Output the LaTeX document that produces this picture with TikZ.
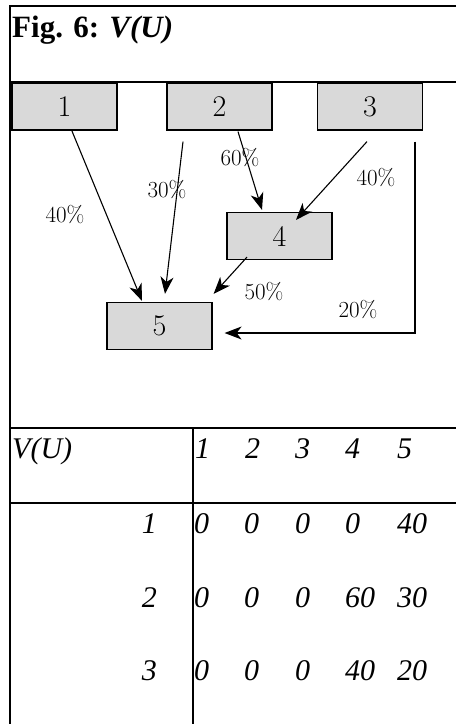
\documentclass[tikz,border=0pt]{standalone}
\usepackage{fontspec}
\newfontfamily\timesfont{Liberation Serif}
\usetikzlibrary{arrows.meta,calc}
\definecolor{boxgray}{RGB}{217,217,217}

\begin{document}
\begin{tikzpicture}[
  x=1pt, y=-1pt,
  box/.style={draw, line width=1.2pt, fill=boxgray, minimum width=105pt, minimum height=47pt, inner sep=0pt, font=\fontsize{30}{30}\selectfont},
  pct/.style={inner sep=0pt, font=\fontsize{23}{23}\selectfont},
  flow/.style={-{Stealth[length=17pt,width=13pt,inset=5pt]}, line width=1.1pt},
  cell/.style={anchor=base west, inner sep=0pt, font=\timesfont\itshape\fontsize{30}{30}\selectfont},
  frame/.style={line width=2pt}
]
  \useasboundingbox (0,0) rectangle (456,724);

  % frame and table rules
  \draw[frame] (456,6) -- (10,6) -- (10,724);
  \draw[frame] (10,81.5) -- (456,81.5);
  \draw[frame] (10,428) -- (456,428);
  \draw[frame] (10,503) -- (456,503);
  \draw[frame] (192.5,428) -- (192.5,724);

  % title
  \node[anchor=base west, inner sep=0pt, font=\timesfont\bfseries\fontsize{31}{31}\selectfont] (title) at (12,37) {Fig. 6: \textit{V(U)}};

  % boxes
  \node[box] (b1) at (64.5,106.5) {1};
  \node[box] (b2) at (219.5,106.5) {2};
  \node[box] (b3) at (370,106.5) {3};
  \node[box] (b4) at (279.5,236) {4};
  \node[box] (b5) at (159.5,326) {5};

  % flows
  \draw[flow] ($(b1.south)+(7.5,0.5)$) -- ($(b5.north)+(-17.5,-1)$);
  \draw[flow] ($(b2.south)+(-36.5,11)$) -- ($(b5.north)+(5.5,-8)$);
  \draw[flow] ($(b2.south)+(18.5,1)$) -- ($(b4.north)+(-17.5,-2)$);
  \draw[flow] ($(b3.south)+(-3,11)$) -- ($(b4.north)+(16.5,8)$);
  \draw[flow] ($(b4.south)+(-32.5,-3)$) -- ($(b5.north east)+(1,-8)$);
  \draw[flow] ($(b3.south)+(45,11)$) |- ($(b5.east)+(12,7)$);

  % shares
  \node[pct] (p15) at (65,215) {40\%};
  \node[pct] (p25) at (167,190) {30\%};
  \node[pct] (p24) at (240,158) {60\%};
  \node[pct] (p34) at (376,178) {40\%};
  \node[pct] (p45) at (264,292) {50\%};
  \node[pct] (p35) at (358,310) {20\%};

  % table header
  \node[cell] (vu) at (12,458) {V(U)};
  \foreach \x/\c in {195/1,245/2,295/3,345/4,397/5}
    \node[cell] (h\c) at (\x,458) {\c};

  % table rows
  \node[cell, anchor=base east] (r1) at (157,533) {1};
  \foreach \x/\v [count=\i] in {194/0,244/0,295/0,345/0,397/40}
    \node[cell] (v1\i) at (\x,533) {\v};
  \node[cell, anchor=base east] (r2) at (157,607) {2};
  \foreach \x/\v [count=\i] in {194/0,244/0,295/0,345/60,397/30}
    \node[cell] (v2\i) at (\x,607) {\v};
  \node[cell, anchor=base east] (r3) at (157,680) {3};
  \foreach \x/\v [count=\i] in {194/0,244/0,295/0,345/40,397/20}
    \node[cell] (v3\i) at (\x,680) {\v};

\end{tikzpicture}
\end{document}
